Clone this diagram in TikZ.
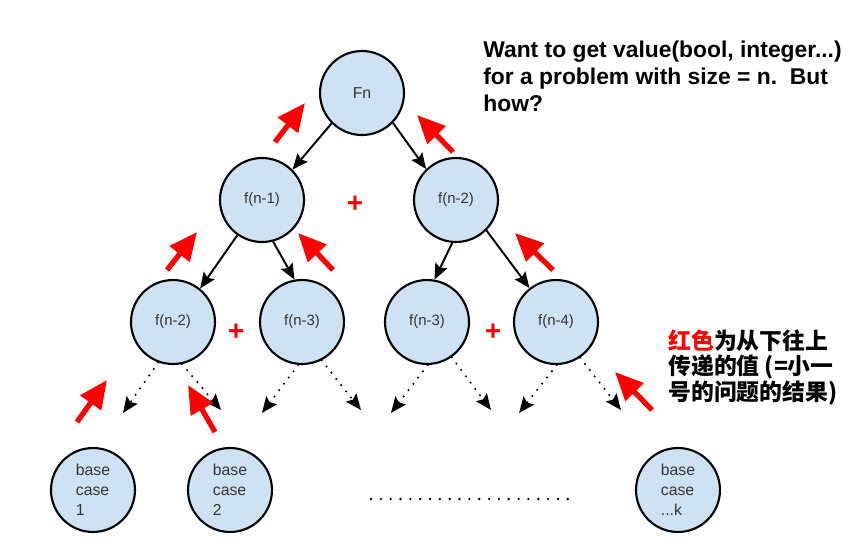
\documentclass[tikz,border=0pt]{standalone}
\usepackage{fontspec}
\setmainfont{Liberation Sans}
\newfontfamily\cjk{Noto Sans CJK SC}
\usetikzlibrary{arrows.meta}
\definecolor{nodeblue}{HTML}{CFE2F3}
\definecolor{txtgray}{HTML}{333333}
\tikzset{
  recnode/.style={circle,draw=black,line width=1.2pt,fill=nodeblue,minimum size=1.68cm,
    inner sep=0pt,text=txtgray,font=\fontsize{8.5}{10}\selectfont},
  basenode/.style={recnode,align=left,font=\fontsize{9}{11.3}\selectfont},
  callarr/.style={-{Stealth[length=9pt,width=7.5pt,inset=1.5pt]},line width=1.1pt},
  moredots/.style={-{Stealth[length=9pt,width=7.5pt,inset=1.5pt]},line width=1.3pt,
    dash pattern=on 0pt off 4.5pt,line cap=round},     % call not drawn out
  retarr/.style={-{Triangle[length=16pt,width=14pt]},line width=3pt,red}, % value passed up
  plussign/.style={text=red,font=\bfseries\fontsize{16}{16}\selectfont},
  notetext/.style={anchor=north west,align=left,inner sep=0pt},
}
\begin{document}
\begin{tikzpicture}[x=0.02cm,y=-0.02cm]
  \useasboundingbox (0,0) rectangle (866,557);
  % recursion tree
  \node[recnode,font=\fontsize{9}{11}\selectfont] (fn) at (362,93) {Fn};
  \node[recnode] (fa) at (262,200) {f(n-1)};
  \node[recnode] (fb) at (456,200) {f(n-2)};
  \node[recnode] (fc) at (173,322) {f(n-2)};
  \node[recnode] (fd) at (302,322) {f(n-3)};
  \node[recnode] (fe) at (427,322) {f(n-3)};
  \node[recnode] (ff) at (556,322) {f(n-4)};
  \node[basenode] (b1) at (93,490) {base\\case\\1};
  \node[basenode] (b2) at (230,490) {base\\case\\2};
  \node[basenode] (bk) at (678,490) {base\\case\\...k};
  \foreach \p/\pa/\c/\ca in {fn/225/fa/45,fn/316/fb/134,fa/235/fc/51,
                              fa/285/fd/100,fb/265/fe/80,fb/315/ff/128}
    \draw[callarr] (\p.\pa) -- (\c.\ca);
  \foreach \nd/\la/\lx/\ra/\rx in {fc/250/123/282/221,fd/265/262/297/361,
                                   fe/271/391/305/491,ff/271/519/304/621}{
    \coordinate (\nd-l) at (\lx,413);
    \coordinate (\nd-r) at (\rx,410);
    \draw[moredots] (\nd.\la) -- (\nd-l);
    \draw[moredots] (\nd.\ra) -- (\nd-r);
  }
  \draw[line width=1.5pt,dash pattern=on 0pt off 5.6pt,line cap=round] (371,499) -- (572,499);
  \node[plussign] (plusa) at (355,204) {+};
  \node[plussign] (plusb) at (236,332) {+};
  \node[plussign] (plusc) at (493,332) {+};
  % red arrows
  \foreach \sx/\sy/\tx/\ty in {275/142/305/103,453/152/417/115,167/270/197/232,
      333/270/298/233,553/270/515/233,77/422/107/380,215/432/188/385,652/410/615/372}
    \draw[retarr] (\sx,\sy) -- (\tx,\ty);
  \node[notetext,font=\bfseries\fontsize{13}{15.3}\selectfont] (question) at (483,41)
    {Want to get value(bool, integer...)\\for a problem with size = n.\ \ But\\how?};
  \node[notetext,font=\cjk\bfseries\fontsize{13}{14.7}\selectfont] (hint) at (668,329)
    {{\color{red}红色}为从下往上\\传递的值 (=小一\\号的问题的结果)};
\end{tikzpicture}
\end{document}
